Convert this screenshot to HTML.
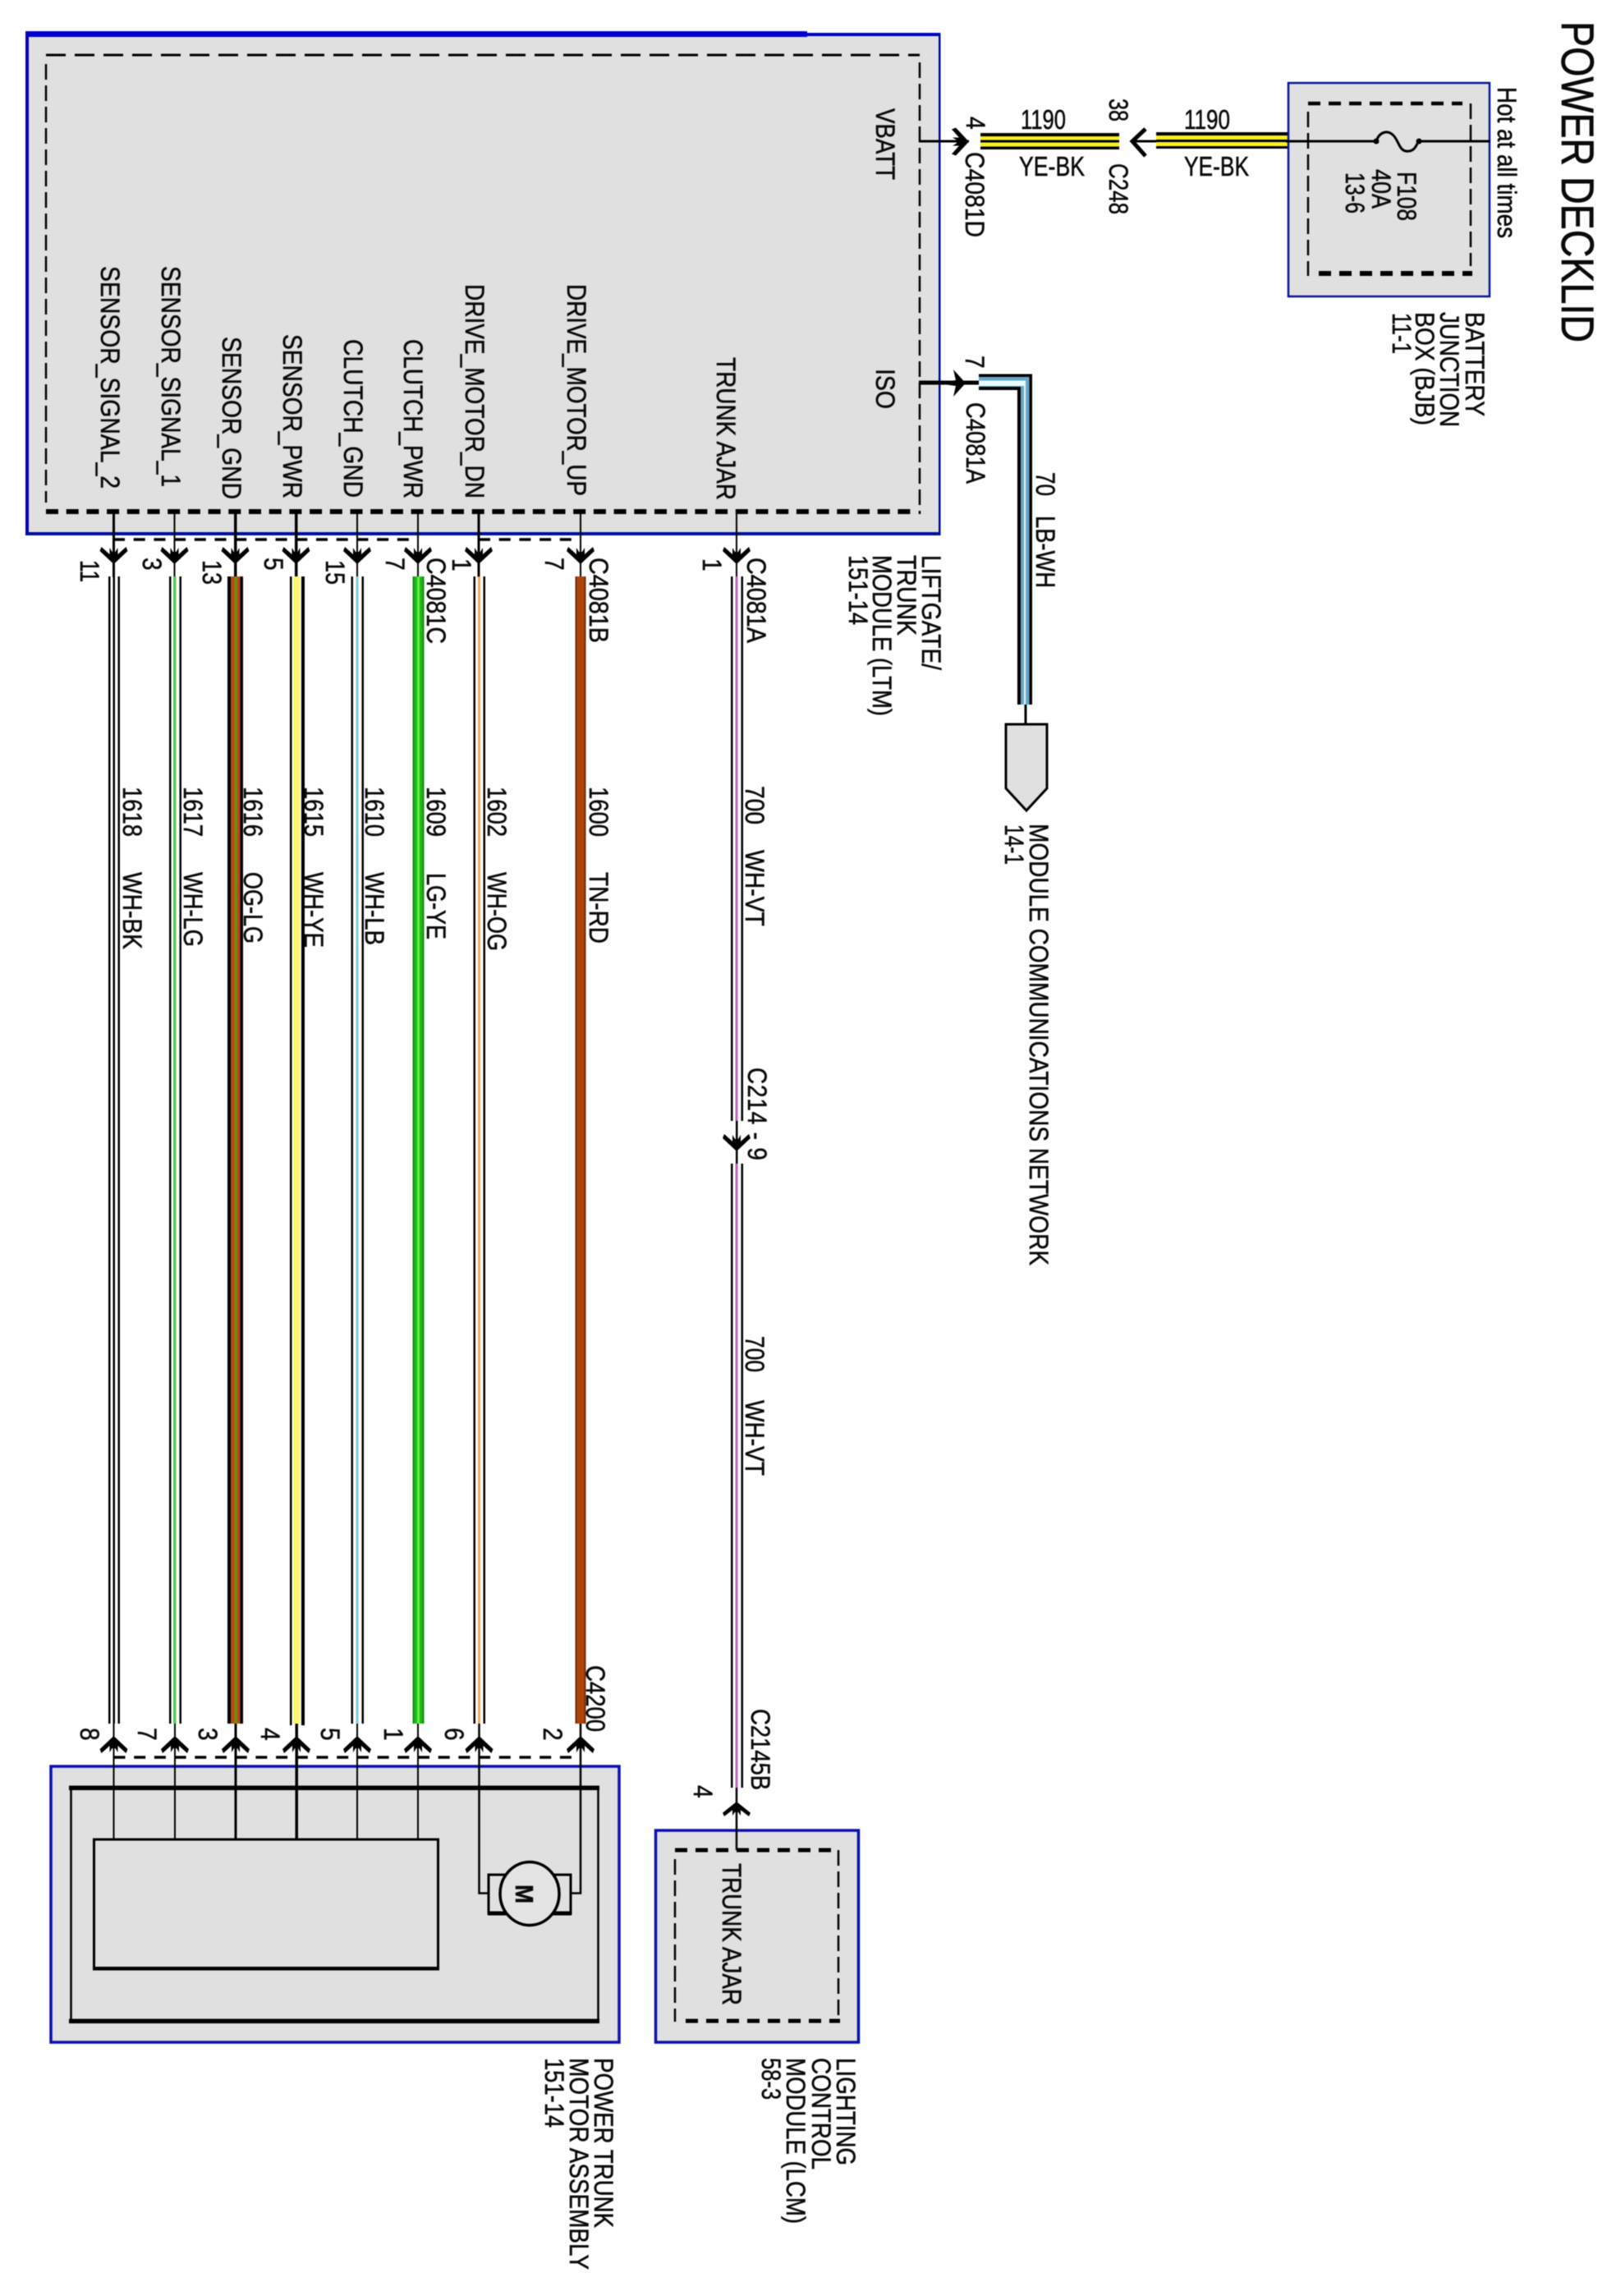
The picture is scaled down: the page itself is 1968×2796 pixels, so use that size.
<!DOCTYPE html>
<html>
<head>
<meta charset="utf-8">
<title>Power Decklid</title>
<style>
html,body{margin:0;padding:0;background:#fff;}
svg{display:block;filter:blur(0.45px);}
text{font-family:"Liberation Sans",Arial,sans-serif;font-size:28px;fill:#0a0a0a;stroke:#0a0a0a;stroke-width:0.45px;}
</style>
</head>
<body>
<svg width="1968" height="2796" viewBox="0 0 1968 2796" xmlns="http://www.w3.org/2000/svg">
<defs>
<path id="a" d="M0 0L-17-16L-15-21L-5-12L-5-20L-2-15L2-15L5-20L5-12L15-21L17-16Z" fill="#000"/>
</defs>
<rect width="1968" height="2796" fill="#fff"/>

<!-- LTM module -->
<rect x="31" y="41" width="1113" height="609" fill="#e0e0e0"/>
<rect x="31" y="38" width="952" height="7" fill="#0000d0"/>
<rect x="983" y="40" width="162" height="4" fill="#0000c8"/>
<rect x="31" y="38" width="4" height="614" fill="#0000b8"/>
<rect x="31" y="648" width="1114" height="4" fill="#00109a"/>
<rect x="1143" y="40" width="2.5" height="612" fill="#000a9a"/>
<g fill="none" stroke="#000">
<line x1="56" y1="67" x2="1120" y2="67" stroke-width="3" stroke-dasharray="24 11"/>
<line x1="56" y1="78" x2="56" y2="612" stroke-width="2.5" stroke-dasharray="19 7"/>
<line x1="1120" y1="76" x2="1120" y2="626" stroke-width="2.5" stroke-dasharray="19 7"/>
<line x1="56" y1="623" x2="1118" y2="623" stroke-width="6" stroke-dasharray="15 9.7"/>
<line x1="138" y1="657" x2="500" y2="657" stroke-width="3.5" stroke-dasharray="14 10.7"/>
<line x1="583" y1="657" x2="698" y2="657" stroke-width="3.5" stroke-dasharray="14 10.7"/>
</g>

<!-- top stems -->
<g fill="#000">
<rect x="137" y="623" width="3" height="80"/>
<rect x="211.500" y="623" width="2" height="80"/>
<rect x="285" y="623" width="3.500" height="80"/>
<rect x="359" y="623" width="3.500" height="80"/>
<rect x="434" y="623" width="2" height="80"/>
<rect x="508" y="623" width="2" height="80"/>
<rect x="581.500" y="623" width="3" height="80"/>
<rect x="706" y="623" width="2" height="80"/>
<rect x="896" y="623" width="2" height="80"/>
</g>
<use href="#a" transform="translate(138.500,687)"/>
<use href="#a" transform="translate(212.500,687)"/>
<use href="#a" transform="translate(286.500,687)"/>
<use href="#a" transform="translate(360.500,687)"/>
<use href="#a" transform="translate(435,687)"/>
<use href="#a" transform="translate(509,687)"/>
<use href="#a" transform="translate(583,687)"/>
<use href="#a" transform="translate(707,687)"/>
<use href="#a" transform="translate(897,687)"/>

<!-- harness wires -->
<g>
<rect x="132" y="702" width="2.500" height="1397" fill="#000"/><rect x="137.500" y="702" width="2.500" height="1397" fill="#000"/><rect x="143.500" y="702" width="2.500" height="1397" fill="#000"/>
<rect x="206" y="702" width="2.500" height="1397" fill="#000"/><rect x="211" y="702" width="3.500" height="1397" fill="#58c858"/><rect x="218.500" y="702" width="2.500" height="1397" fill="#000"/>
<rect x="277" y="702" width="19" height="1397" fill="#000"/><rect x="281" y="702" width="11.500" height="1397" fill="#b84a12"/><rect x="285.500" y="702" width="3.500" height="1397" fill="#6f8f12"/>
<rect x="353" y="702" width="2.500" height="1399" fill="#000"/><rect x="357" y="702" width="8" height="1397" fill="#fbf870"/><rect x="367" y="702" width="4" height="1399" fill="#000"/>
<rect x="427.500" y="702" width="2.500" height="1397" fill="#000"/><rect x="433.500" y="702" width="3" height="1397" fill="#8cc8e8"/><rect x="440.500" y="702" width="2.500" height="1397" fill="#000"/>
<rect x="502.500" y="702" width="14" height="1397" fill="#0f900f"/><rect x="504.500" y="702" width="10" height="1397" fill="#1fb81f"/><rect x="508" y="702" width="3" height="1397" fill="#66ee44"/>
<rect x="576.500" y="702" width="2.500" height="1397" fill="#000"/><rect x="582" y="702" width="3" height="1397" fill="#f0a868"/><rect x="588.500" y="702" width="2.500" height="1397" fill="#000"/>
<rect x="700.500" y="702" width="13" height="1397" fill="#6e2e0c"/><rect x="702.500" y="702" width="9" height="1397" fill="#ae440c"/>
<rect x="890" y="702" width="2.500" height="663" fill="#000"/><rect x="895.500" y="702" width="3" height="663" fill="#c860c8"/><rect x="902.500" y="702" width="2.500" height="663" fill="#000"/>
<rect x="890" y="1417" width="2.500" height="760" fill="#000"/><rect x="895.500" y="1417" width="3" height="760" fill="#c860c8"/><rect x="902.500" y="1417" width="2.500" height="760" fill="#000"/>
<rect x="896" y="1365" width="2.500" height="52" fill="#000"/>
</g>
<use href="#a" transform="translate(897,1402)"/>

<!-- Power trunk motor assembly -->
<rect x="62" y="2151" width="692" height="336" fill="#e0e0e0" stroke="#0a10b0" stroke-width="3.500"/>
<rect x="86.500" y="2177" width="642" height="284" fill="none" stroke="#000" stroke-width="2.500"/>
<rect x="84" y="2174.500" width="646" height="5.500" fill="#000"/>
<rect x="84" y="2458.500" width="646" height="5.500" fill="#000"/>
<rect x="114.500" y="2240" width="419" height="157" fill="none" stroke="#000" stroke-width="3"/>
<rect x="113" y="2395" width="422" height="4.500" fill="#000"/>

<g fill="none" stroke="#000">
<line x1="138.500" y1="2140" x2="696" y2="2140" stroke-width="3.500" stroke-dasharray="14 10.700"/>
<rect x="595" y="2283" width="100" height="47" stroke-width="3"/>
<line x1="594" y1="2330" x2="696" y2="2330" stroke-width="5"/>
<path d="M583.500 2099V2305.500H595" stroke-width="2.500"/>
<path d="M707 2099V2305.500H695" stroke-width="2.500"/>
</g>
<ellipse cx="645" cy="2306" rx="36" ry="38.500" fill="#e4e4e4" stroke="#000" stroke-width="3.500"/>
<g fill="#000">
<rect x="137.500" y="2099" width="2" height="141"/>
<rect x="212" y="2099" width="2" height="141"/>
<rect x="285.500" y="2099" width="3" height="141"/>
<rect x="359.500" y="2099" width="3.500" height="141"/>
<rect x="434" y="2099" width="2" height="141"/>
<rect x="508" y="2099" width="2" height="141"/>
</g>
<use href="#a" transform="translate(138.500,2114) scale(1,-1)"/>
<use href="#a" transform="translate(213,2114) scale(1,-1)"/>
<use href="#a" transform="translate(287,2114) scale(1,-1)"/>
<use href="#a" transform="translate(361,2114) scale(1,-1)"/>
<use href="#a" transform="translate(435,2114) scale(1,-1)"/>
<use href="#a" transform="translate(509,2114) scale(1,-1)"/>
<use href="#a" transform="translate(583.500,2114) scale(1,-1)"/>
<use href="#a" transform="translate(707,2114) scale(1,-1)"/>

<!-- Lighting control module -->
<rect x="798.500" y="2229" width="247" height="258" fill="#e0e0e0" stroke="#0a10b0" stroke-width="3.500"/>
<g fill="none" stroke="#000">
<line x1="822" y1="2253" x2="1021" y2="2253" stroke-width="5" stroke-dasharray="15 10"/>
<line x1="835" y1="2461" x2="1023" y2="2461" stroke-width="5" stroke-dasharray="15 10"/>
<line x1="822" y1="2264" x2="822" y2="2462" stroke-width="2.500" stroke-dasharray="19 7"/>
<line x1="1021" y1="2253" x2="1021" y2="2455" stroke-width="2.500" stroke-dasharray="19 7"/>
<line x1="897" y1="2177" x2="897" y2="2253" stroke-width="2.500"/>
</g>
<use href="#a" transform="translate(897,2194) scale(1,-0.850)"/>

<!-- VBATT path -->
<rect x="1119" y="170.500" width="61" height="3" fill="#000"/>
<use href="#a" transform="translate(1180,172.500) rotate(-90)"/>
<rect x="1194" y="162" width="169" height="20" fill="#000"/>
<rect x="1194" y="166" width="169" height="4.500" fill="#f6f020"/>
<rect x="1194" y="173.500" width="169" height="5" fill="#f6f020"/>
<rect x="1408" y="161" width="160" height="20" fill="#000"/>
<rect x="1408" y="165" width="160" height="5" fill="#f6f020"/>
<rect x="1408" y="173" width="160" height="5" fill="#f6f020"/>
<g fill="none" stroke="#000">
<polyline points="1395,157 1379,172 1395,190" stroke-width="5"/>
<line x1="1379" y1="172" x2="1408" y2="172" stroke-width="3"/>
</g>

<!-- BJB -->
<rect x="1569" y="101" width="245" height="260" fill="#e0e0e0" stroke="#0a1498" stroke-width="2.500"/>
<g fill="none" stroke="#000">
<line x1="1593" y1="126" x2="1781" y2="126" stroke-width="4.500" stroke-dasharray="15 10"/>
<line x1="1606" y1="333" x2="1793" y2="333" stroke-width="6" stroke-dasharray="15 10"/>
<line x1="1593" y1="136" x2="1593" y2="336" stroke-width="2.500" stroke-dasharray="19 7"/>
<line x1="1791" y1="126" x2="1791" y2="324" stroke-width="2.500" stroke-dasharray="19 7"/>
<line x1="1566" y1="172" x2="1676" y2="172" stroke-width="3"/>
<path d="M1676 172C1680 160 1690 158 1697 165C1704 172 1704 186 1716 184C1724 183 1725 175 1728 172" stroke-width="3"/>
<line x1="1728" y1="172" x2="1815" y2="172" stroke-width="3"/>
</g>
<circle cx="1676" cy="172" r="3.500" fill="#000"/>
<circle cx="1728" cy="172" r="3.500" fill="#000"/>

<!-- ISO path -->
<rect x="1119" y="463.500" width="74" height="5" fill="#000"/>
<path d="M1161 450L1176 466.500L1161 483L1164 470L1150 468V465L1164 463Z" fill="#000"/>
<path d="M1192 455.500H1257V858H1239V475H1192Z" fill="#000"/>
<path d="M1192 459H1253.500V858H1243V471H1192Z" fill="#66a8c4"/>
<path d="M1192 463.500H1249V858H1247V470H1192Z" fill="#eafafa"/>
<rect x="1247.500" y="858" width="3" height="24" fill="#000"/>
<polygon points="1225,882 1275,882 1275,960 1250,987 1225,960" fill="#e0e0e0" stroke="#000" stroke-width="3"/>

<!-- Signal labels -->
<text transform="translate(1067,132) rotate(90) scale(1,1.15)" textLength="87" lengthAdjust="spacingAndGlyphs">VBATT</text>
<text transform="translate(1067,449) rotate(90) scale(1,1.15)" textLength="49" lengthAdjust="spacingAndGlyphs">ISO</text>
<text transform="translate(123,324) rotate(90) scale(1,1.15)" textLength="271" lengthAdjust="spacingAndGlyphs">SENSOR_SIGNAL_2</text>
<text transform="translate(197,324) rotate(90) scale(1,1.15)" textLength="269" lengthAdjust="spacingAndGlyphs">SENSOR_SIGNAL_1</text>
<text transform="translate(271,410) rotate(90) scale(1,1.15)" textLength="198" lengthAdjust="spacingAndGlyphs">SENSOR_GND</text>
<text transform="translate(345,407) rotate(90) scale(1,1.15)" textLength="200" lengthAdjust="spacingAndGlyphs">SENSOR_PWR</text>
<text transform="translate(419,413) rotate(90) scale(1,1.15)" textLength="193" lengthAdjust="spacingAndGlyphs">CLUTCH_GND</text>
<text transform="translate(492,413) rotate(90) scale(1,1.15)" textLength="194" lengthAdjust="spacingAndGlyphs">CLUTCH_PWR</text>
<text transform="translate(567,346) rotate(90) scale(1,1.15)" textLength="261" lengthAdjust="spacingAndGlyphs">DRIVE_MOTOR_DN</text>
<text transform="translate(691,346) rotate(90) scale(1,1.15)" textLength="258" lengthAdjust="spacingAndGlyphs">DRIVE_MOTOR_UP</text>
<text transform="translate(873,435) rotate(90) scale(1,1.15)" textLength="174" lengthAdjust="spacingAndGlyphs">TRUNK AJAR</text>

<!-- Top pin numbers -->
<text transform="translate(98,682) rotate(90) scale(1,1.15)" textLength="27" lengthAdjust="spacingAndGlyphs">11</text>
<text transform="translate(174,679) rotate(90) scale(1,1.15)" textLength="15">3</text>
<text transform="translate(247,682) rotate(90) scale(1,1.15)" textLength="30" lengthAdjust="spacingAndGlyphs">13</text>
<text transform="translate(322,679) rotate(90) scale(1,1.15)" textLength="15">5</text>
<text transform="translate(397,682) rotate(90) scale(1,1.15)" textLength="30" lengthAdjust="spacingAndGlyphs">15</text>
<text transform="translate(470,679) rotate(90) scale(1,1.15)" textLength="15">7</text>
<text transform="translate(551,680) rotate(90) scale(1,1.15)" textLength="15">1</text>
<text transform="translate(664,679) rotate(90) scale(1,1.15)" textLength="15">7</text>
<text transform="translate(856,680) rotate(90) scale(1,1.15)" textLength="15">1</text>
<text transform="translate(520,679) rotate(90) scale(1,1.15)" textLength="105" lengthAdjust="spacingAndGlyphs">C4081C</text>
<text transform="translate(718,679) rotate(90) scale(1,1.15)" textLength="104" lengthAdjust="spacingAndGlyphs">C4081B</text>
<text transform="translate(910,679) rotate(90) scale(1,1.15)" textLength="104" lengthAdjust="spacingAndGlyphs">C4081A</text>

<!-- Wire labels -->
<text transform="translate(150,958) rotate(90) scale(1,1.15)" textLength="61" lengthAdjust="spacingAndGlyphs">1618</text>
<text transform="translate(150,1062) rotate(90) scale(1,1.15)" textLength="94" lengthAdjust="spacingAndGlyphs">WH-BK</text>
<text transform="translate(224,958) rotate(90) scale(1,1.15)" textLength="61" lengthAdjust="spacingAndGlyphs">1617</text>
<text transform="translate(224,1062) rotate(90) scale(1,1.15)" textLength="91" lengthAdjust="spacingAndGlyphs">WH-LG</text>
<text transform="translate(297,958) rotate(90) scale(1,1.15)" textLength="61" lengthAdjust="spacingAndGlyphs">1616</text>
<text transform="translate(297,1062) rotate(90) scale(1,1.15)" textLength="87" lengthAdjust="spacingAndGlyphs">OG-LG</text>
<text transform="translate(371,958) rotate(90) scale(1,1.15)" textLength="61" lengthAdjust="spacingAndGlyphs">1615</text>
<text transform="translate(371,1062) rotate(90) scale(1,1.15)" textLength="92" lengthAdjust="spacingAndGlyphs">WH-YE</text>
<text transform="translate(445,958) rotate(90) scale(1,1.15)" textLength="61" lengthAdjust="spacingAndGlyphs">1610</text>
<text transform="translate(445,1062) rotate(90) scale(1,1.15)" textLength="89" lengthAdjust="spacingAndGlyphs">WH-LB</text>
<text transform="translate(520,958) rotate(90) scale(1,1.15)" textLength="61" lengthAdjust="spacingAndGlyphs">1609</text>
<text transform="translate(520,1063) rotate(90) scale(1,1.15)" textLength="81" lengthAdjust="spacingAndGlyphs">LG-YE</text>
<text transform="translate(594,958) rotate(90) scale(1,1.15)" textLength="61" lengthAdjust="spacingAndGlyphs">1602</text>
<text transform="translate(594,1062) rotate(90) scale(1,1.15)" textLength="96" lengthAdjust="spacingAndGlyphs">WH-OG</text>
<text transform="translate(718,958) rotate(90) scale(1,1.15)" textLength="61" lengthAdjust="spacingAndGlyphs">1600</text>
<text transform="translate(718,1062) rotate(90) scale(1,1.15)" textLength="87" lengthAdjust="spacingAndGlyphs">TN-RD</text>
<text transform="translate(908,957) rotate(90) scale(1,1.15)" textLength="47" lengthAdjust="spacingAndGlyphs">700</text>
<text transform="translate(908,1035) rotate(90) scale(1,1.15)" textLength="93" lengthAdjust="spacingAndGlyphs">WH-VT</text>
<text transform="translate(908,1627) rotate(90) scale(1,1.15)" textLength="44" lengthAdjust="spacingAndGlyphs">700</text>
<text transform="translate(908,1705) rotate(90) scale(1,1.15)" textLength="92" lengthAdjust="spacingAndGlyphs">WH-VT</text>
<text transform="translate(911,1300) rotate(90) scale(1,1.15)" textLength="113" lengthAdjust="spacing">C214 - 9</text>

<!-- Right labels -->
<text transform="translate(1123,676) rotate(90) scale(1,1.15)" textLength="140" lengthAdjust="spacingAndGlyphs">LIFTGATE/</text>
<text transform="translate(1093,676) rotate(90) scale(1,1.15)" textLength="98" lengthAdjust="spacingAndGlyphs">TRUNK</text>
<text transform="translate(1063,676) rotate(90) scale(1,1.15)" textLength="196" lengthAdjust="spacingAndGlyphs">MODULE (LTM)</text>
<text transform="translate(1034,676) rotate(90) scale(1,1.15)" textLength="85" lengthAdjust="spacingAndGlyphs">151-14</text>

<text transform="translate(1254,1003) rotate(90) scale(1,1.15)" textLength="538" lengthAdjust="spacingAndGlyphs">MODULE COMMUNICATIONS NETWORK</text>
<text transform="translate(1224,1004) rotate(90) scale(1,1.15)" textLength="49" lengthAdjust="spacingAndGlyphs">14-1</text>
<text transform="translate(1262,575) rotate(90) scale(1,1.15)" textLength="29" lengthAdjust="spacingAndGlyphs">70</text>
<text transform="translate(1262,628) rotate(90) scale(1,1.15)" textLength="88" lengthAdjust="spacingAndGlyphs">LB-WH</text>
<text transform="translate(1177,490) rotate(90) scale(1,1.15)" textLength="99" lengthAdjust="spacingAndGlyphs">C4081A</text>
<text transform="translate(1176,433) rotate(90) scale(1,1.15)" textLength="16">7</text>
<text transform="translate(1177,142) rotate(90) scale(1,1.15)" textLength="15">4</text>
<text transform="translate(1176,185) rotate(90) scale(1,1.15)" textLength="104" lengthAdjust="spacingAndGlyphs">C4081D</text>

<text transform="translate(1243,157) scale(1,1.200)" textLength="55" lengthAdjust="spacingAndGlyphs">1190</text>
<text transform="translate(1241,214) scale(1,1.200)" textLength="80" lengthAdjust="spacingAndGlyphs">YE-BK</text>
<text transform="translate(1442,157) scale(1,1.200)" textLength="56" lengthAdjust="spacingAndGlyphs">1190</text>
<text transform="translate(1442,214) scale(1,1.200)" textLength="79" lengthAdjust="spacingAndGlyphs">YE-BK</text>
<text transform="translate(1351,120) rotate(90) scale(1,1.15)" textLength="28" lengthAdjust="spacingAndGlyphs">38</text>
<text transform="translate(1351,199) rotate(90) scale(1,1.15)" textLength="62" lengthAdjust="spacingAndGlyphs">C248</text>

<text transform="translate(1702,209) rotate(90) scale(1,1.15)" textLength="60" lengthAdjust="spacingAndGlyphs">F108</text>
<text transform="translate(1671,206) rotate(90) scale(1,1.15)" textLength="48" lengthAdjust="spacingAndGlyphs">40A</text>
<text transform="translate(1639,210) rotate(90) scale(1,1.15)" textLength="50" lengthAdjust="spacingAndGlyphs">13-6</text>
<text transform="translate(1824,106) rotate(90) scale(1,1.15)" textLength="184" lengthAdjust="spacingAndGlyphs">Hot at all times</text>
<text style="font-size:48px;stroke-width:0.6px" transform="translate(1902,26) rotate(90) scale(1,1.15)" textLength="391" lengthAdjust="spacingAndGlyphs">POWER DECKLID</text>
<text transform="translate(1785,380) rotate(90) scale(1,1.15)" textLength="127" lengthAdjust="spacingAndGlyphs">BATTERY</text>
<text transform="translate(1754,380) rotate(90) scale(1,1.15)" textLength="140" lengthAdjust="spacingAndGlyphs">JUNCTION</text>
<text transform="translate(1724,380) rotate(90) scale(1,1.15)" textLength="138" lengthAdjust="spacingAndGlyphs">BOX (BJB)</text>
<text transform="translate(1696,381) rotate(90) scale(1,1.15)" textLength="50" lengthAdjust="spacingAndGlyphs">11-1</text>

<!-- Bottom labels -->
<text transform="translate(714,2028) rotate(90) scale(1,1.15)" textLength="81" lengthAdjust="spacingAndGlyphs">C4200</text>
<text transform="translate(915,2081) rotate(90) scale(1,1.15)" textLength="99" lengthAdjust="spacingAndGlyphs">C2145B</text>
<text transform="translate(845,2174) rotate(90) scale(1,1.15)" textLength="16">4</text>
<text transform="translate(98,2104) rotate(90) scale(1,1.15)" textLength="16">8</text>
<text transform="translate(168,2104) rotate(90) scale(1,1.15)" textLength="16">7</text>
<text transform="translate(242,2104) rotate(90) scale(1,1.15)" textLength="16">3</text>
<text transform="translate(318,2104) rotate(90) scale(1,1.15)" textLength="16">4</text>
<text transform="translate(391,2104) rotate(90) scale(1,1.15)" textLength="16">5</text>
<text transform="translate(468,2104) rotate(90) scale(1,1.15)" textLength="16">1</text>
<text transform="translate(542,2104) rotate(90) scale(1,1.15)" textLength="16">6</text>
<text transform="translate(662,2104) rotate(90) scale(1,1.15)" textLength="16">2</text>

<text style="font-weight:bold" transform="translate(628,2295) rotate(90) scale(1,1.100)" textLength="23" lengthAdjust="spacingAndGlyphs">M</text>
<text transform="translate(880,2269) rotate(90) scale(1,1.15)" textLength="173" lengthAdjust="spacingAndGlyphs">TRUNK AJAR</text>

<text transform="translate(724,2506) rotate(90) scale(1,1.15)" textLength="207" lengthAdjust="spacingAndGlyphs">POWER TRUNK</text>
<text transform="translate(694,2506) rotate(90) scale(1,1.15)" textLength="258" lengthAdjust="spacingAndGlyphs">MOTOR ASSEMBLY</text>
<text transform="translate(664,2506) rotate(90) scale(1,1.15)" textLength="85" lengthAdjust="spacingAndGlyphs">151-14</text>
<text transform="translate(1019,2506) rotate(90) scale(1,1.15)" textLength="131" lengthAdjust="spacingAndGlyphs">LIGHTING</text>
<text transform="translate(989,2506) rotate(90) scale(1,1.15)" textLength="136" lengthAdjust="spacingAndGlyphs">CONTROL</text>
<text transform="translate(958,2506) rotate(90) scale(1,1.15)" textLength="202" lengthAdjust="spacingAndGlyphs">MODULE (LCM)</text>
<text transform="translate(928,2506) rotate(90) scale(1,1.15)" textLength="51" lengthAdjust="spacingAndGlyphs">58-3</text>
</svg>
</body>
</html>
